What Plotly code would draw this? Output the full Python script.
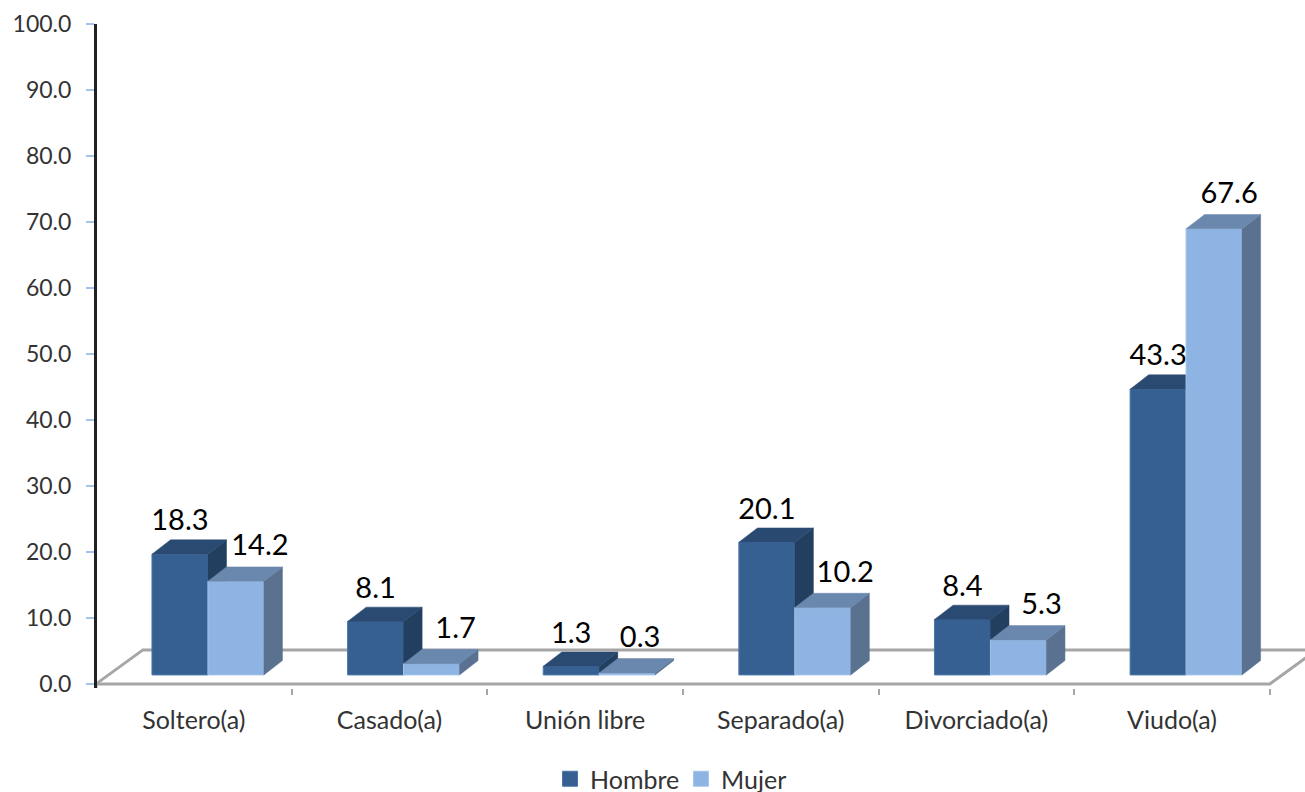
import plotly.graph_objects as go

categories = ["Soltero(a)", "Casado(a)", "Unión libre", "Separado(a)", "Divorciado(a)", "Viudo(a)"]
hombre = [18.3, 8.1, 1.3, 20.1, 8.4, 43.3]
mujer = [14.2, 1.7, 0.3, 10.2, 5.3, 67.6]
y_ticks = [0, 10, 20, 30, 40, 50, 60, 70, 80, 90, 100]

FONT = "Lato"
W, H = 1305, 792
AREA_H = 755           # height left for the axes once the legend has taken its strip
X_RANGE = [0.005, 6.18]
Y_RANGE = [-0.6, 100]
X_DOMAIN = [97 / W, 1]
Y_DOMAIN = [(AREA_H - 687) / AREA_H, 1 - 24 / AREA_H]
BAR_W = 0.286          # bar width in category units
LIFT = 1.37            # bars stand on the floor, above the axis zero
DX, DY = 0.095, 2.17   # oblique depth of a bar
FX, FY = 0.24, 5.16    # oblique depth of the floor
MUJER_LABEL_SHIFT = [0.123, 0.123, 0.066, 0.115, 0.118, 0.077]


def faces(centers, values):
    top_x, top_y, side_x, side_y = [], [], [], []
    for c, v in zip(centers, values):
        l, r, t = c - BAR_W / 2, c + BAR_W / 2, v + LIFT
        top_x += [l, l + DX, r + DX, r, l, None]
        top_y += [t, t + DY, t + DY, t, t, None]
        side_x += [r, r + DX, r + DX, r, r, None]
        side_y += [LIFT, LIFT + DY, t + DY, t, LIFT, None]
    return top_x, top_y, side_x, side_y


def series(name, values, centers, front, top, side, edge, xa, ya):
    top_x, top_y, side_x, side_y = faces(centers, values)
    bar = go.Bar(name=name, x=centers, y=values, base=LIFT, width=BAR_W,
                 marker=dict(color=front, line=dict(color=edge, width=1)),
                 showlegend=False, xaxis=xa, yaxis=ya)
    side_tr = go.Scatter(x=side_x, y=side_y, mode="lines", fill="toself", fillcolor=side,
                         line=dict(width=0.5, color=side), showlegend=False, hoverinfo="skip",
                         xaxis=xa, yaxis=ya, cliponaxis=False)
    top_tr = go.Scatter(x=top_x, y=top_y, mode="lines", fill="toself", fillcolor=top,
                        line=dict(width=0.5, color=top), showlegend=False, hoverinfo="skip",
                        xaxis=xa, yaxis=ya, cliponaxis=False)
    key = go.Scatter(name=name, x=[None], y=[None], mode="markers",
                     marker=dict(symbol="square", size=15, color=front,
                                 line=dict(color=edge, width=1)),
                     xaxis=xa, yaxis=ya)
    return [bar, side_tr, top_tr, key]


n = len(categories)
c_h = [i + 0.429 for i in range(n)]
c_m = [i + 0.715 for i in range(n)]

fig = go.Figure()

# floor of the 3-D box, on the lowest subplot layer
fig.add_trace(go.Scatter(
    x=[0, FX, 6.3, None, 0, 6, 6 + FX, None, 0, 0],
    y=[0, FY, FY, None, 0, 0, FY, None, 0, -1.4],
    mode="lines", line=dict(color="#A6A6A6", width=3),
    showlegend=False, hoverinfo="skip", cliponaxis=False))

fig.add_traces(series("Hombre", hombre, c_h, "#376092", "#2A4A72", "#223F60", "#4A76AB", "x2", "y2"))
fig.add_traces(series("Mujer", mujer, c_m, "#8DB4E2", "#6A87AD", "#5A7290", "#A5C5EA", "x3", "y3"))

# data labels
fig.add_trace(go.Scatter(
    x=c_h + [c + s for c, s in zip(c_m, MUJER_LABEL_SHIFT)],
    y=[v + LIFT + 4.7 for v in hombre] + [v + LIFT + 5.0 for v in mujer],
    text=[f"{v:.1f}" for v in hombre + mujer],
    mode="text", textposition="middle center",
    textfont=dict(family=FONT, size=29, color="#000000"),
    showlegend=False, hoverinfo="skip", xaxis="x3", yaxis="y3", cliponaxis=False))

hidden_x = dict(range=X_RANGE, domain=X_DOMAIN, overlaying="x", visible=False)
hidden_y = dict(range=Y_RANGE, domain=Y_DOMAIN, overlaying="y", visible=False)

fig.update_layout(
    width=W, height=H,
    margin=dict(l=0, r=0, t=0, b=0),
    paper_bgcolor="white", plot_bgcolor="white",
    barmode="overlay", showlegend=True,
    font=dict(family=FONT, color="#333333"),
    legend=dict(orientation="h", xref="container", yref="container",
                x=550 / W, xanchor="left", y=13 / H, yanchor="middle",
                entrywidth=86, entrywidthmode="pixels",
                font=dict(family=FONT, size=25, color="#333333"),
                bgcolor="rgba(0,0,0,0)"),
    xaxis=dict(range=X_RANGE, domain=X_DOMAIN, automargin=False, anchor="y",
               showgrid=False, zeroline=False, showline=False,
               tickmode="array", tickvals=[i + 0.5 for i in range(n)], ticktext=categories,
               ticks="", ticklabelstandoff=15,
               tickfont=dict(family=FONT, size=25, color="#333333"),
               minor=dict(tickmode="linear", tick0=0, dtick=1, ticks="outside",
                          ticklen=6, tickwidth=2, tickcolor="#A6A6A6", showgrid=False)),
    yaxis=dict(range=Y_RANGE, domain=Y_DOMAIN, automargin=False, anchor="x",
               showgrid=False, zeroline=False, showline=True,
               linecolor="#222222", linewidth=3,
               tickmode="array", tickvals=y_ticks, tickformat=".1f",
               ticks="outside", ticklen=8, tickwidth=2, tickcolor="#A8C2E8",
               ticklabelstandoff=10,
               tickfont=dict(family=FONT, size=23, color="#333333")),
    xaxis2=dict(hidden_x, anchor="y2"),
    yaxis2=dict(hidden_y, anchor="x2"),
    xaxis3=dict(hidden_x, anchor="y3"),
    yaxis3=dict(hidden_y, anchor="x3"),
)

fig.write_html("out.html", config={"displayModeBar": False},
               post_script="document.body.style.margin='0';")
